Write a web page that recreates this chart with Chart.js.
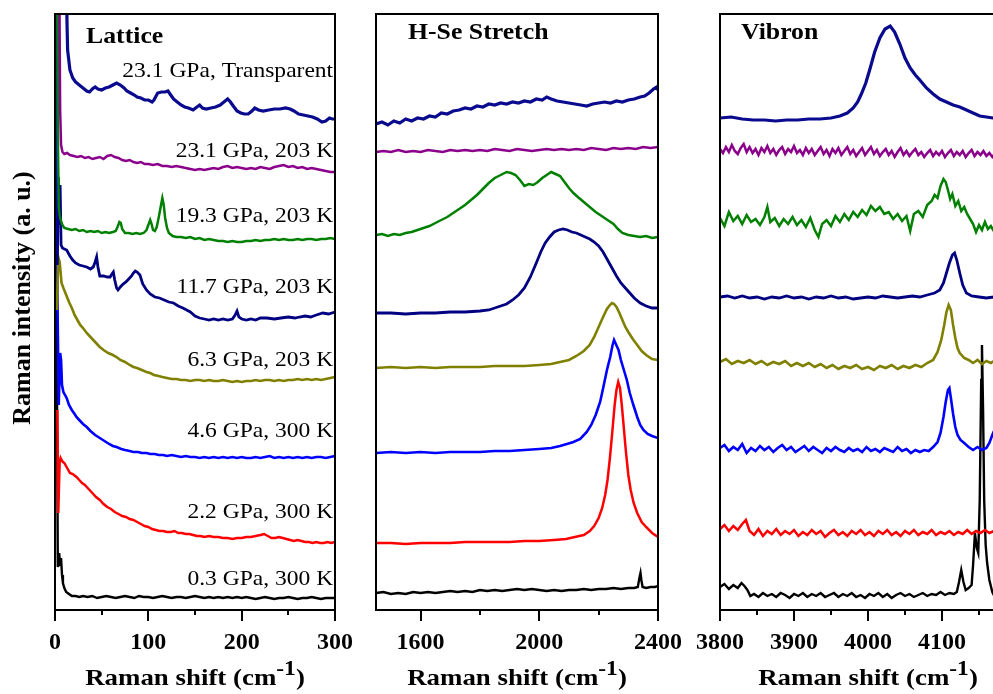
<!doctype html>
<html lang="en">
<head>
<meta charset="utf-8">
<title>Raman spectra</title>
<script src="https://cdn.jsdelivr.net/npm/chart.js@4.4.0/dist/chart.umd.min.js"></script>
<style>
  html, body { margin: 0; padding: 0; background: #fff; overflow: hidden; }
  #wrap { position: relative; width: 993px; height: 694px; overflow: hidden; }
  canvas { position: absolute; left: 0; top: 0; }
</style>
</head>
<body>
<div id="wrap">
  <canvas id="lattice" width="993" height="694"></canvas>
  <canvas id="stretch" width="993" height="694"></canvas>
  <canvas id="vibron" width="1020" height="694"></canvas>
</div>
<script>
// samples, top to bottom
const sampleLabels = ['23.1 GPa, Transparent', '23.1 GPa, 203 K', '19.3 GPa, 203 K', '11.7 GPa, 203 K',
  '6.3 GPa, 203 K', '4.6 GPa, 300 K', '2.2 GPa, 300 K', '0.3 GPa, 300 K'];
const labelLevel = [533, 453, 388, 317, 244, 173, 92, 25];

// ---- lattice region [shift cm-1, intensity a.u. incl. offset]
const lat231T = [[12,640],[12.8,590],[13.5,560],[16,540],[19,532],[22,528],[26,525],[30,522],[34,519],[37,518],[40,521],[43,523],[46,521],[50,520],[54,522],[58,523],[62,525],[66,527],[70,525],[74,522],[77,519],[81,517],[85,515],[88,513],[92,512],[96,510],[100,510],[104,508],[106,510],[110,517],[114,518],[118,518],[121,519],[124,515],[127,511],[131,508],[135,505],[139,503],[143,502],[148,500],[152,503],[155,505],[158,502],[162,501],[167,502],[172,503],[177,505],[181,508],[185,511],[188,508],[191,504],[195,499],[199,497],[203,496],[207,496],[211,499],[214,502],[218,500],[223,499],[229,500],[235,501],[241,501],[247,502],[252,501],[256,499],[261,496],[266,495],[271,494],[276,493],[281,491],[286,488],[290,489],[294,492],[297,491],[300,491]];
const lat231 = [[4.5,650],[5.5,500],[6.5,465],[8,458],[10,456],[13,457],[16,455],[20,454],[24,453],[28,454],[32,452],[36,453],[40,451],[44,452],[48,453],[52,451],[56,454],[60,455],[64,453],[68,452],[72,450],[76,449],[80,450],[84,448],[88,447],[92,448],[96,446],[100,446],[105,445],[110,446],[115,444],[120,444],[125,443],[130,444],[135,443],[140,442],[145,441],[150,440],[155,441],[160,440],[165,441],[170,442],[175,441],[180,443],[185,444],[190,442],[195,443],[200,442],[205,441],[210,442],[215,441],[220,443],[225,442],[230,441],[235,443],[240,444],[245,445],[250,443],[255,444],[260,442],[265,443],[270,441],[275,442],[280,441],[285,440],[290,439],[295,438],[300,438]];
const lat193 = [[2.5,650],[3,480],[4,403],[5,395],[6,390],[8,385],[10,382],[14,381],[18,380],[22,381],[26,379],[30,380],[34,378],[38,379],[42,378],[46,379],[50,377],[54,378],[58,377],[62,378],[65,379],[67,383],[69,388],[70.5,387],[72,381],[75,377],[79,377],[83,376],[87,377],[91,376],[95,377],[98,380],[100,385],[102,390],[103.5,386],[105,380],[107,379],[109,383],[111,392],[113,402],[115,412],[116.5,405],[118,392],[120,382],[122,377],[126,374],[130,373],[135,373],[140,372],[145,373],[150,371],[155,372],[160,370],[165,371],[170,370],[175,369],[180,369],[185,368],[190,369],[195,368],[200,368],[205,369],[210,369],[215,370],[220,369],[225,370],[230,370],[235,371],[240,370],[245,371],[250,370],[255,370],[260,371],[265,370],[270,371],[275,371],[280,370],[285,371],[290,371],[295,372],[300,371]];
const lat117 = [[2.5,345],[3.5,433],[4.5,385],[5.5,425],[6.5,365],[8,362],[10,361],[12.5,360],[16,354],[19,350],[22,347],[26,345],[30,344],[34,343],[38,341],[41,343],[43,348],[44.6,353],[46,343],[48,334],[52,334],[56,333],[59,333],[61,336],[62.5,338],[64,330],[66,322],[67.5,320],[70,323],[73,326],[76,328],[79,331],[82,334],[84,337],[86,339],[88,338],[91,335],[94,326],[98,320],[102,316],[107,313],[112,312],[117,310],[122,308],[127,307],[132,304],[137,302],[141,300],[145,298],[150,294],[155,292],[160,291],[165,290],[170,291],[175,290],[180,291],[185,290],[190,291],[193,295],[195,299],[197,293],[200,291],[205,290],[210,291],[215,290],[220,292],[227,292],[235,291],[242,292],[250,293],[257,292],[262,293],[268,294],[274,293],[280,295],[287,297],[293,296],[300,298]];
const lat63 = [[2,300],[3.5,353],[5,348],[7,327],[9,322],[12,315],[15,308],[18,302],[21,295],[24,290],[27,285],[30,282],[34,277],[38,273],[41,270],[45,266],[48,263],[52,260],[57,257],[62,255],[66,253],[70,250],[75,248],[80,245],[84,243],[88,242],[93,240],[98,238],[102,237],[106,235],[111,234],[115,233],[120,232],[125,231],[130,231],[135,230],[140,230],[145,229],[150,230],[155,230],[160,229],[165,230],[170,229],[175,229],[180,230],[185,229],[190,228],[195,229],[200,228],[205,229],[210,229],[215,230],[220,229],[225,230],[230,230],[235,229],[240,230],[245,229],[250,230],[255,230],[260,231],[265,230],[270,231],[275,230],[280,231],[285,230],[290,231],[295,232],[300,233]];
const lat46 = [[1.5,650],[2.5,320],[4,205],[5.5,257],[6.5,250],[7.5,225],[9,218],[12.5,212],[15,205],[18,200],[21,196],[23,193],[26,190],[30,186],[34,183],[38,179],[43,175],[48,172],[53,169],[58,166],[62,164],[66,163],[71,161],[75,160],[80,159],[84,158],[89,158],[93,157],[98,157],[102,156],[107,156],[111,155],[116,155],[120,154],[125,155],[130,154],[135,153],[140,154],[145,153],[150,153],[155,152],[160,153],[165,152],[170,153],[175,152],[180,153],[185,152],[190,153],[195,152],[200,153],[205,152],[210,152],[215,153],[220,152],[225,153],[230,154],[235,152],[240,153],[245,152],[250,153],[255,152],[260,153],[265,152],[270,153],[275,152],[280,153],[285,153],[290,152],[295,153],[300,154]];
const lat22 = [[2.5,200],[3.5,97],[5,148],[6,152],[7,150],[8.5,148],[10,147],[13,142],[16,137],[19,136],[23,133],[26,130],[29,127],[32,125],[35,122],[38,119],[41,116],[44,113],[48,110],[52,106],[56,103],[60,101],[64,98],[68,96],[72,94],[76,93],[80,91],[84,90],[88,88],[92,86],[96,84],[100,83],[104,81],[108,80],[112,79],[116,79],[120,78],[124,78],[128,79],[132,77],[136,77],[140,76],[144,76],[148,75],[152,74],[156,74],[160,73],[165,74],[170,73],[175,73],[180,72],[185,72],[190,71],[195,72],[200,72],[205,73],[210,73],[215,74],[220,75],[224,76],[228,74],[232,72],[236,72],[240,73],[244,72],[248,71],[252,70],[256,69],[260,70],[264,69],[268,68],[272,68],[276,67],[280,68],[284,67],[288,67],[292,68],[296,67],[300,68]];
const lat03 = [[1,650],[2,250],[3,43],[4,48],[4.5,57],[5.5,44],[6.5,52],[7.5,35],[8.5,27],[10,22],[12,18],[15,16],[18,14],[22,14],[26,13],[30,14],[35,13],[40,14],[45,12],[50,13],[55,14],[60,13],[65,12],[70,13],[75,14],[80,13],[85,12],[90,14],[95,13],[100,13],[105,12],[110,13],[115,14],[120,13],[125,12],[130,13],[135,13],[140,12],[145,13],[150,14],[155,13],[160,12],[165,13],[170,12],[175,13],[180,12],[185,13],[190,12],[195,13],[200,12],[205,13],[210,12],[215,11],[220,12],[225,13],[230,12],[235,11],[240,12],[245,12],[250,13],[255,12],[260,11],[265,12],[270,12],[275,13],[280,12],[285,11],[290,12],[295,12],[300,12]];

// ---- H-Se stretch region
const se231T = [[1450,486],[1470,488],[1490,485],[1510,489],[1530,487],[1550,491],[1570,489],[1590,492],[1610,491],[1630,494],[1650,493],[1670,497],[1690,496],[1710,499],[1730,500],[1750,502],[1770,501],[1790,504],[1810,503],[1830,506],[1850,505],[1870,507],[1890,506],[1910,508],[1930,507],[1950,509],[1970,508],[1990,511],[2010,510],[2025,513],[2040,511],[2060,509],[2080,508],[2100,507],[2120,506],[2140,505],[2160,504],[2180,506],[2200,507],[2220,508],[2240,507],[2260,509],[2280,508],[2300,510],[2320,511],[2340,513],[2355,514],[2370,517],[2385,521],[2395,523],[2400,520]];
const se231 = [[1450,458],[1475,459],[1500,458],[1525,460],[1550,458],[1575,459],[1600,458],[1625,460],[1650,459],[1675,458],[1700,460],[1725,459],[1750,460],[1775,459],[1800,460],[1825,459],[1850,461],[1875,460],[1900,459],[1925,461],[1950,460],[1975,459],[2000,460],[2025,461],[2050,460],[2075,461],[2100,460],[2125,461],[2150,460],[2175,462],[2200,461],[2225,460],[2250,462],[2275,461],[2300,462],[2325,461],[2350,463],[2375,462],[2400,463]];
const se193 = [[1450,375],[1470,376],[1490,374],[1510,376],[1530,375],[1550,377],[1570,378],[1590,380],[1610,382],[1630,384],[1650,387],[1670,390],[1690,393],[1710,397],[1730,401],[1750,405],[1770,410],[1790,415],[1810,421],[1830,427],[1850,432],[1870,435],[1890,438],[1905,437],[1920,435],[1935,430],[1950,424],[1965,426],[1980,425],[1995,428],[2010,432],[2025,435],[2040,438],[2055,436],[2070,434],[2085,428],[2100,422],[2115,417],[2130,413],[2150,408],[2170,403],[2190,398],[2210,394],[2230,390],[2250,386],[2265,381],[2280,377],[2300,375],[2320,374],[2340,373],[2360,374],[2380,372],[2400,373]];
const se117 = [[1450,297],[1500,297],[1550,296],[1600,297],[1650,297],[1700,298],[1750,298],[1800,299],[1830,300],[1860,303],[1890,306],[1910,310],[1930,315],[1950,322],[1970,333],[1990,347],[2005,358],[2020,367],[2035,373],[2050,378],[2065,380],[2080,381],[2095,380],[2110,378],[2125,377],[2140,375],[2155,373],[2170,371],[2185,368],[2200,364],[2215,358],[2230,350],[2245,342],[2260,334],[2275,327],[2290,322],[2305,317],[2320,312],[2340,307],[2360,304],[2380,302],[2400,302]];
const se63 = [[1450,242],[1500,243],[1550,242],[1600,243],[1650,242],[1700,243],[1750,243],[1800,243],[1850,244],[1900,244],[1950,244],[2000,245],[2040,246],[2070,248],[2100,250],[2125,254],[2150,259],[2170,265],[2185,273],[2200,283],[2215,293],[2228,301],[2238,305],[2245,307],[2252,306],[2260,303],[2270,297],[2280,290],[2290,283],[2300,278],[2315,271],[2330,265],[2345,259],[2360,255],[2380,251],[2400,250]];
const se46 = [[1450,157],[1500,158],[1550,157],[1600,158],[1650,157],[1700,158],[1750,158],[1800,158],[1850,159],[1900,159],[1950,160],[2000,161],[2040,162],[2070,164],[2093,166],[2115,168],[2138,171],[2160,178],[2175,185],[2190,195],[2205,208],[2216,223],[2228,240],[2239,253],[2247,265],[2252,270],[2258,266],[2267,260],[2275,250],[2285,240],[2295,230],[2305,217],[2317,205],[2330,193],[2340,185],[2351,180],[2365,176],[2380,174],[2400,172]];
const se22 = [[1450,67],[1500,67],[1550,66],[1600,67],[1650,67],[1700,67],[1750,68],[1800,68],[1850,68],[1900,68],[1950,69],[2000,69],[2050,70],[2090,71],[2120,73],[2150,75],[2170,79],[2185,84],[2200,92],[2212,102],[2222,115],[2230,130],[2238,152],[2246,178],[2254,205],[2260,220],[2266,228],[2272,222],[2278,205],[2284,185],[2292,158],[2300,135],[2308,120],[2318,107],[2330,97],[2345,88],[2360,83],[2380,77],[2400,73]];
const se03 = [[1450,17],[1475,18],[1500,16],[1525,17],[1550,16],[1575,18],[1600,17],[1625,18],[1650,17],[1675,18],[1700,19],[1725,18],[1750,19],[1775,18],[1800,20],[1825,19],[1850,20],[1875,19],[1900,20],[1925,21],[1950,20],[1975,21],[2000,20],[2025,19],[2050,20],[2075,19],[2100,20],[2125,20],[2150,21],[2175,20],[2200,21],[2225,21],[2250,22],[2275,21],[2300,22],[2320,22],[2332,23],[2338,33],[2341,37],[2344,30],[2348,23],[2360,22],[2375,23],[2390,23],[2400,24]];

// ---- H2 vibron region
const vib231T = [[3800,492],[3815,493],[3830,491],[3845,490],[3860,490],[3875,489],[3890,490],[3905,490],[3920,491],[3935,491],[3950,492],[3962,494],[3972,497],[3980,502],[3986,508],[3991,516],[3997,527],[4003,542],[4009,558],[4016,572],[4023,581],[4030,584],[4036,578],[4043,566],[4050,552],[4057,542],[4064,535],[4070,530],[4079,522],[4088,516],[4097,511],[4106,508],[4115,505],[4124,503],[4133,500],[4142,497],[4151,494],[4160,493],[4169,492],[4185,491],[4200,490]];
const vib231 = [[3800,461],[3804,457],[3808,463],[3812,458],[3816,465],[3820,459],[3824,456],[3828,462],[3832,466],[3836,458],[3840,463],[3844,457],[3848,461],[3852,455],[3856,462],[3860,458],[3864,464],[3868,457],[3872,461],[3876,455],[3880,460],[3884,463],[3888,456],[3892,461],[3896,458],[3900,464],[3904,457],[3908,460],[3912,455],[3916,462],[3920,457],[3924,461],[3928,455],[3932,459],[3936,463],[3940,456],[3944,460],[3948,454],[3952,461],[3956,457],[3960,462],[3964,455],[3968,459],[3972,463],[3976,456],[3980,460],[3984,454],[3988,458],[3992,462],[3996,455],[4000,459],[4004,463],[4008,456],[4012,460],[4016,454],[4020,458],[4024,461],[4028,455],[4032,459],[4036,453],[4040,458],[4044,462],[4048,455],[4052,459],[4056,454],[4060,458],[4064,461],[4068,455],[4072,458],[4076,453],[4080,457],[4084,460],[4088,454],[4092,458],[4096,455],[4100,459],[4104,453],[4108,457],[4112,460],[4116,454],[4120,458],[4124,455],[4128,459],[4132,453],[4136,457],[4140,460],[4144,454],[4148,458],[4152,455],[4156,459],[4160,454],[4164,457],[4168,453],[4172,457],[4185,456],[4200,455]];
const vib193 = [[3800,392],[3806,384],[3812,398],[3818,389],[3824,394],[3830,386],[3836,395],[3842,388],[3848,391],[3854,385],[3860,393],[3864,403],[3868,388],[3874,392],[3880,384],[3886,391],[3892,386],[3898,393],[3904,385],[3910,390],[3916,383],[3922,392],[3928,380],[3933,373],[3938,386],[3944,390],[3950,384],[3956,394],[3962,388],[3968,396],[3974,390],[3980,398],[3986,393],[3992,400],[3998,395],[4004,404],[4010,399],[4016,403],[4022,396],[4028,398],[4034,391],[4040,396],[4046,389],[4052,394],[4057,379],[4062,396],[4068,399],[4074,393],[4080,405],[4086,409],[4090,415],[4094,412],[4098,424],[4102,431],[4105,428],[4108,420],[4111,411],[4114,416],[4118,404],[4122,409],[4126,399],[4130,403],[4134,396],[4138,391],[4142,386],[4146,378],[4150,385],[4154,380],[4158,388],[4162,381],[4166,384],[4170,379],[4185,382],[4200,380]];
const vib117 = [[3800,313],[3810,314],[3820,312],[3830,314],[3840,312],[3850,313],[3860,311],[3870,313],[3880,312],[3890,314],[3900,312],[3910,313],[3920,311],[3930,313],[3940,312],[3950,314],[3960,312],[3970,313],[3980,311],[3990,312],[4000,313],[4010,312],[4020,314],[4030,313],[4040,312],[4050,313],[4060,314],[4070,313],[4080,315],[4090,317],[4097,320],[4102,327],[4106,337],[4110,347],[4114,355],[4117,357],[4120,350],[4124,337],[4128,325],[4133,317],[4140,314],[4150,313],[4160,312],[4170,313],[4185,312],[4200,313]];
const vib63 = [[3800,248],[3808,251],[3816,246],[3824,249],[3832,247],[3840,250],[3848,246],[3856,249],[3864,245],[3872,248],[3880,246],[3888,249],[3896,244],[3904,247],[3912,244],[3920,247],[3928,243],[3936,246],[3944,242],[3952,245],[3960,241],[3968,244],[3976,242],[3984,245],[3992,241],[4000,243],[4008,240],[4016,244],[4024,242],[4032,245],[4040,241],[4048,244],[4056,242],[4064,245],[4072,243],[4080,247],[4088,250],[4094,258],[4099,270],[4103,285],[4106,298],[4109,305],[4112,300],[4115,285],[4118,272],[4121,262],[4124,257],[4130,252],[4136,250],[4142,247],[4148,250],[4154,246],[4160,249],[4166,247],[4172,250],[4185,249],[4200,250]];
const vib46 = [[3800,162],[3806,165],[3812,159],[3818,163],[3824,160],[3830,166],[3836,157],[3842,162],[3848,159],[3854,164],[3860,160],[3866,163],[3872,158],[3878,162],[3884,165],[3890,160],[3896,163],[3902,158],[3908,161],[3914,164],[3920,159],[3926,163],[3932,160],[3938,157],[3944,162],[3950,159],[3956,163],[3962,160],[3968,158],[3974,162],[3980,159],[3986,161],[3992,158],[3998,163],[4004,159],[4010,161],[4016,158],[4022,162],[4028,160],[4034,158],[4040,163],[4046,159],[4052,161],[4058,157],[4064,160],[4070,158],[4076,160],[4082,159],[4088,163],[4094,168],[4098,177],[4102,193],[4105,208],[4108,220],[4110,222],[4112,212],[4115,196],[4118,183],[4121,175],[4125,170],[4130,167],[4136,163],[4142,160],[4148,163],[4154,160],[4160,162],[4164,167],[4168,175],[4172,182],[4185,185],[4200,185]];
const vib22 = [[3800,81],[3806,85],[3812,79],[3818,84],[3824,80],[3830,86],[3835,90],[3840,79],[3846,75],[3852,81],[3858,74],[3864,79],[3870,76],[3876,81],[3882,75],[3888,79],[3894,76],[3900,80],[3906,74],[3912,78],[3918,75],[3924,80],[3930,76],[3936,79],[3942,73],[3948,77],[3954,80],[3960,75],[3966,78],[3972,74],[3978,79],[3984,76],[3990,80],[3996,75],[4002,78],[4008,74],[4014,79],[4020,76],[4026,80],[4032,75],[4038,78],[4044,74],[4050,79],[4056,76],[4062,80],[4068,75],[4074,78],[4080,76],[4086,80],[4092,75],[4098,78],[4104,76],[4110,79],[4116,75],[4122,78],[4128,76],[4134,80],[4140,76],[4146,79],[4152,77],[4158,80],[4164,77],[4170,79],[4185,78],[4200,78]];
const vib03 = [[3800,23],[3806,26],[3812,21],[3818,25],[3824,22],[3829,27],[3833,24],[3837,20],[3841,14],[3846,16],[3852,13],[3858,17],[3864,14],[3870,16],[3876,13],[3882,17],[3888,15],[3894,12],[3900,16],[3906,14],[3912,17],[3918,13],[3924,16],[3930,14],[3936,17],[3942,13],[3948,15],[3954,17],[3960,13],[3966,16],[3972,14],[3978,17],[3984,13],[3990,15],[3996,12],[4002,16],[4008,14],[4014,17],[4020,13],[4026,16],[4032,12],[4038,15],[4044,17],[4050,14],[4056,16],[4062,13],[4068,15],[4074,17],[4080,14],[4086,16],[4092,15],[4098,18],[4104,15],[4110,17],[4116,16],[4120,18],[4123,28],[4126,40],[4129,28],[4132,20],[4136,22],[4140,25],[4142,45],[4144.5,77],[4147,62],[4149,57],[4151,110],[4153,230],[4154,265],[4155.5,200],[4157,110],[4159,65],[4161,47],[4164,30],[4168,18],[4172,12],[4185,12],[4200,12]];

// axis ticks
const latticeTicks = [0, 50, 100, 150, 200, 250, 300];
const latticeMajor = [0, 100, 200, 300];
const stretchTicks = [1600, 1800, 2000, 2200, 2400];
const stretchMajor = [1600, 2000, 2400];
const vibronTicks = [3800, 3850, 3900, 3950, 4000, 4050, 4100, 4150];
const vibronMajor = [3800, 3900, 4000, 4100];

const seriesColors = ['#0a0a8e', '#8b008b', '#008000', '#000080', '#808000', '#0000ff', '#ff0000', '#000000'];
const lineWidths = [3.2, 2.5, 2.5, 2.8, 2.6, 2.6, 2.5, 2.4];
const serif = '"Liberation Serif", "Times New Roman", serif';

function stretchText(ctx, text, x, y, font, align, sx) {
  ctx.save();
  ctx.font = font;
  ctx.textAlign = align;
  ctx.textBaseline = 'alphabetic';
  ctx.translate(x, y);
  ctx.scale(sx, 1);
  ctx.fillText(text, 0, 0);
  ctx.restore();
}

const framePlugin = {
  id: 'frame',
  afterDraw(chart, args, o) {
    const {ctx, chartArea: a, scales: {x, y}} = chart;
    ctx.save();
    ctx.strokeStyle = '#000';
    ctx.fillStyle = '#000';
    ctx.lineWidth = 2;
    ctx.strokeRect(a.left, a.top, a.right - a.left, a.bottom - a.top);
    o.ticks.forEach(v => {
      const px = Math.round(x.getPixelForValue(v));
      const len = o.major.includes(v) ? 11 : 5;
      ctx.beginPath();
      ctx.moveTo(px, a.bottom);
      ctx.lineTo(px, a.bottom + len);
      ctx.stroke();
    });

    stretchText(ctx, o.title, a.left + o.titleDx, a.top + o.titleDy, 'bold 23px ' + serif, 'left', 1.12);

    // x title with superscript
    const sx = 1.12;
    const big = 'bold 24px ' + serif, small = 'bold 21px ' + serif;
    ctx.font = big;
    const w1 = ctx.measureText('Raman shift (cm').width, w3 = ctx.measureText(')').width;
    ctx.font = small;
    const w2 = ctx.measureText('-1').width;
    const cx = (a.left + a.right) / 2;
    let tx = cx - (w1 + w2 + w3) * sx / 2;
    const base = a.bottom + 75;
    stretchText(ctx, 'Raman shift (cm', tx, base, big, 'left', sx);
    tx += w1 * sx;
    stretchText(ctx, '-1', tx, base - 10, small, 'left', sx);
    tx += w2 * sx;
    stretchText(ctx, ')', tx, base, big, 'left', sx);

    if (o.sampleText) {
      sampleLabels.forEach((t, i) => {
        stretchText(ctx, t, x.getPixelForValue(298), y.getPixelForValue(labelLevel[i]), '21px ' + serif, 'right', 1.12);
      });
      ctx.save();
      ctx.translate(a.left - 32, (a.top + a.bottom) / 2 - 14);
      ctx.rotate(-Math.PI / 2);
      ctx.font = 'bold 26px ' + serif;
      ctx.textAlign = 'center';
      ctx.textBaseline = 'middle';
      ctx.fillText('Raman intensity (a. u.)', 0, 0);
      ctx.restore();
    }
    ctx.restore();
  }
};

function makeChart(id, series, xMin, xMax, ticks, major, padding, frameOpts) {
  return new Chart(document.getElementById(id), {
    type: 'line',
    data: {
      datasets: series.map((pts, i) => ({
        data: pts.map(p => ({x: p[0], y: p[1]})),
        borderColor: seriesColors[i],
        borderWidth: lineWidths[i],
        pointRadius: 0,
        tension: 0,
        fill: false
      }))
    },
    options: {
      responsive: false,
      animation: false,
      events: [],
      layout: {padding: padding},
      plugins: {
        legend: {display: false},
        tooltip: {enabled: false},
        frame: Object.assign({ticks: ticks, major: major}, frameOpts)
      },
      scales: {
        x: {
          type: 'linear',
          min: xMin,
          max: xMax,
          grid: {display: false},
          border: {display: false},
          afterBuildTicks: s => { s.ticks = ticks.map(v => ({value: v})); },
          afterFit: s => { s.height = 84; },
          ticks: {
            autoSkip: false,
            maxRotation: 0,
            padding: 10,
            color: '#000',
            font: {family: serif, size: 24, weight: 'bold'},
            callback: v => major.includes(v) ? String(v) : ''
          }
        },
        y: {display: false, min: 0, max: 596}
      }
    },
    plugins: [framePlugin]
  });
}

makeChart('lattice', [lat231T, lat231, lat193, lat117, lat63, lat46, lat22, lat03], 0, 300,
  latticeTicks, latticeMajor, {left: 55, right: 658, top: 14, bottom: 0},
  {title: 'Lattice', titleDx: 31, titleDy: 29, sampleText: true});
makeChart('stretch', [se231T, se231, se193, se117, se63, se46, se22, se03], 1450, 2400,
  stretchTicks, stretchMajor, {left: 376, right: 335, top: 14, bottom: 0},
  {title: 'H-Se Stretch', titleDx: 32, titleDy: 25});
makeChart('vibron', [vib231T, vib231, vib193, vib117, vib63, vib46, vib22, vib03], 3800, 4200,
  vibronTicks, vibronMajor, {left: 720, right: 4, top: 14, bottom: 0},
  {title: 'Vibron', titleDx: 21, titleDy: 25});
</script>
</body>
</html>
